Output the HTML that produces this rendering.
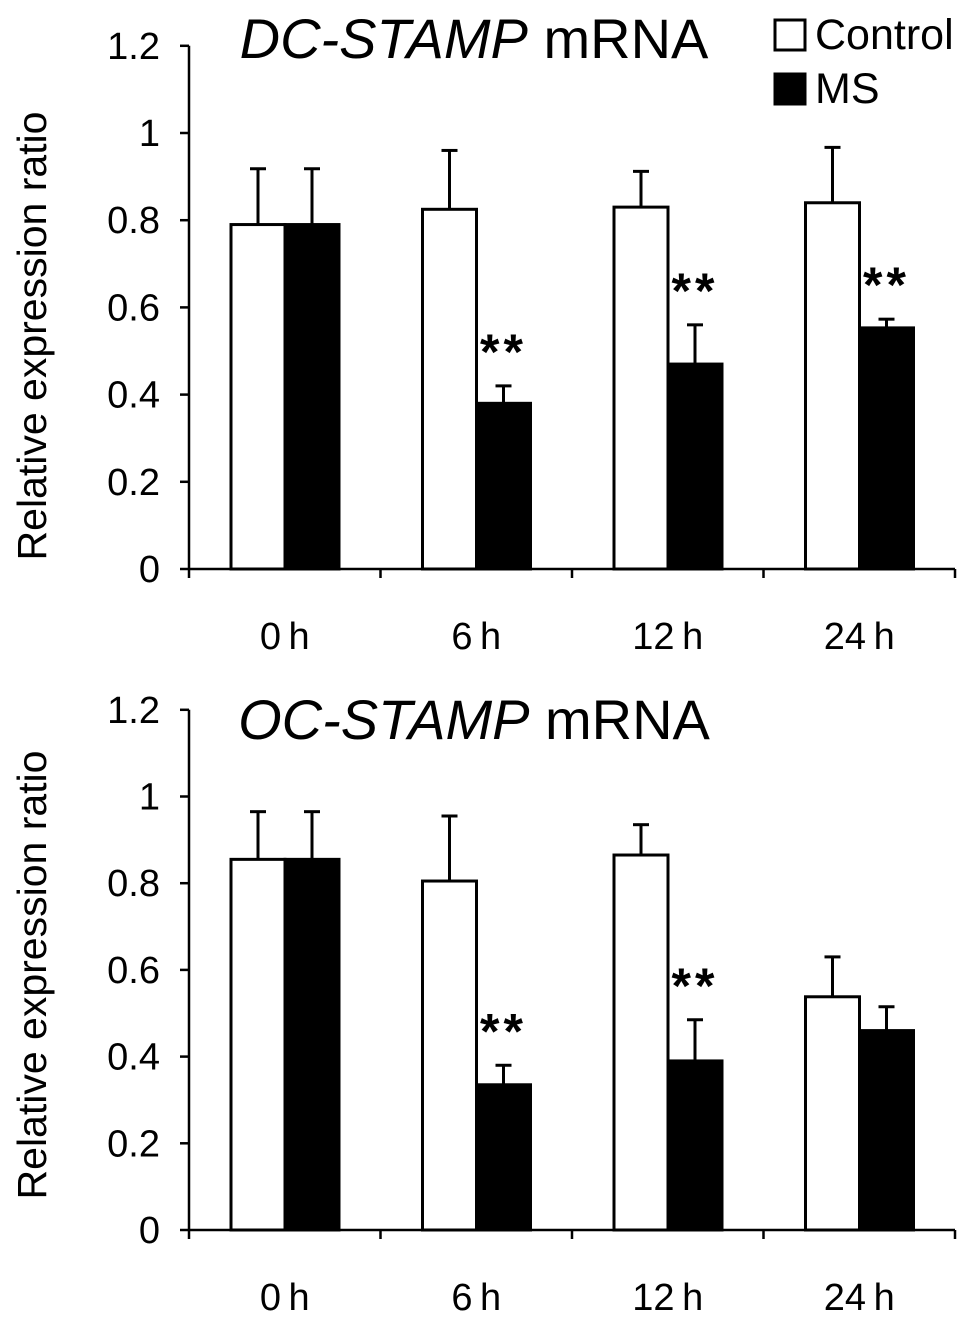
<!DOCTYPE html>
<html><head><meta charset="utf-8"><style>
body{margin:0;background:#fff}
svg{display:block;font-family:"Liberation Sans",Arial,sans-serif}
</style></head><body>
<svg id="chart" width="969" height="1319"></svg>
<script>
const categories=["0h","6h","12h","24h"];
const yTicks=[0,0.2,0.4,0.6,0.8,1,1.2];
const yTickLabels=["0","0.2","0.4","0.6","0.8","1","1.2"];
const dcControl=[0.79,0.825,0.83,0.84];
const dcControlErr=[0.128,0.135,0.082,0.127];
const dcMS=[0.79,0.38,0.47,0.553];
const dcMSErr=[0.128,0.04,0.09,0.02];
const dcSig=["","**","**","**"];
const ocControl=[0.855,0.805,0.865,0.538];
const ocControlErr=[0.11,0.15,0.07,0.092];
const ocMS=[0.855,0.335,0.39,0.46];
const ocMSErr=[0.11,0.045,0.095,0.055];
const ocSig=["","**","**",""];
const NS="http://www.w3.org/2000/svg";
const svg=document.getElementById('chart');
function mk(t,a,p){const e=document.createElementNS(NS,t);for(const k in a)e.setAttribute(k,a[k]);(p||svg).appendChild(e);return e;}
function panel(name,y0,unit,ctrl,cErr,ms,mErr,sig,titleItalic,titleY,ytY){
  const g=mk('g',{});
  
  
  const x0=189,gw=191.5;
  const Y=v=>y0-v*unit;
  const X=i=>x0+i*gw;
  categories.forEach((c,i)=>{
    const bx=X(i)+42,bw=54;
    [[ctrl,cErr,'#fff',0],[ms,mErr,'#000',1]].forEach(([vals,errs,fill,k])=>{
      const x=bx+k*bw;
      const e=mk('line',{x1:x+bw/2,x2:x+bw/2,y1:Y(vals[i]),y2:Y(vals[i]+errs[i]),stroke:'#000','stroke-width':3},g);
      
      
      const cap=mk('line',{x1:x+bw/2-8,x2:x+bw/2+8,y1:Y(vals[i]+errs[i]),y2:Y(vals[i]+errs[i]),stroke:'#000','stroke-width':3},g);
      
      
      const r=mk('rect',{x:x,y:Y(vals[i]),width:bw,height:Y(0)-Y(vals[i]),fill:fill,stroke:'#000','stroke-width':3},g);
      
      
    });
    if(sig[i]){
      const s=mk('text',{x:bx+bw*1.5,y:Y(ms[i]+mErr[i])-17,'font-size':50,'font-weight':'bold','text-anchor':'middle','letter-spacing':4},g);
      s.textContent=sig[i];
      
      
    }
    const t=mk('text',{x:X(i)+gw/2,y:y0+80,'font-size':38,'text-anchor':'middle'},g);
    t.textContent=c.replace('h','\u2009h');
    
    
  });
  const ya=mk('line',{x1:x0,x2:x0,y1:Y(1.2),y2:Y(0),stroke:'#000','stroke-width':2.5},g);
  
  
  const xa=mk('line',{x1:x0,x2:X(4),y1:Y(0),y2:Y(0),stroke:'#000','stroke-width':2.5},g);
  
  
  for(let i=0;i<=4;i++){
    const tk=mk('line',{x1:X(i),x2:X(i),y1:Y(0),y2:Y(0)+9,stroke:'#000','stroke-width':2.5},g);
    
    
  }
  yTicks.forEach((v,i)=>{
    const tk=mk('line',{x1:x0-9,x2:x0,y1:Y(v),y2:Y(v),stroke:'#000','stroke-width':2.5},g);
    
    
    const t=mk('text',{x:160,y:Y(v)+13,'font-size':38,'text-anchor':'end'},g);
    t.textContent=yTickLabels[i];
    
    
  });
  const yt=mk('text',{transform:`translate(46,${ytY}) rotate(-90)`,'font-size':41,'text-anchor':'middle'},g);
  yt.textContent='Relative expression ratio';
  
  
  const tt=mk('text',{x:474,y:titleY,'font-size':56,'text-anchor':'middle'},g);
  
  
  const ti=mk('tspan',{'font-style':'italic'},tt);ti.textContent=titleItalic;
  const tn=mk('tspan',{},tt);tn.textContent=' mRNA';
}
panel('dc-stamp-panel',569,436,dcControl,dcControlErr,dcMS,dcMSErr,dcSig,'DC-STAMP',58,336);
panel('oc-stamp-panel',1230,433.5,ocControl,ocControlErr,ocMS,ocMSErr,ocSig,'OC-STAMP',739,975);
const lg=mk('g',{});


const b1=mk('rect',{x:775,y:20,width:30,height:30,fill:'#fff',stroke:'#000','stroke-width':3},lg);


const l1=mk('text',{x:815,y:49,'font-size':43},lg);l1.textContent='Control';


const b2=mk('rect',{x:775,y:74,width:30,height:30,fill:'#000',stroke:'#000','stroke-width':3},lg);


const l2=mk('text',{x:815,y:103,'font-size':43},lg);l2.textContent='MS';


</script>
</body></html>
